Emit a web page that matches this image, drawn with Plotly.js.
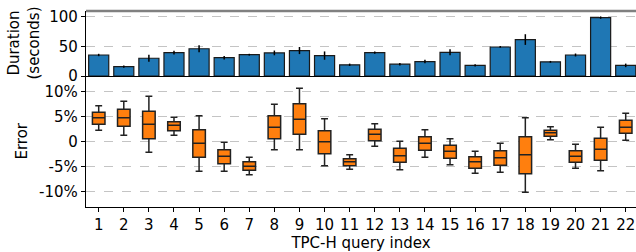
<!DOCTYPE html>
<html><head><meta charset="utf-8">
<script src="https://cdn.plot.ly/plotly-3.0.1.min.js"></script>
<style>html,body{margin:0;padding:0;background:#fff}</style>
</head><body><div id="chart" style="width:636px;height:252px"></div>
<script>
const queries = [1,2,3,4,5,6,7,8,9,10,11,12,13,14,15,16,17,18,19,20,21,22];
const duration = [35.5,16,30,39.5,46,31,36,39,43,34.5,19,39.5,20,24.5,40,18,49,61.5,24,35.5,98.5,18];
const durationErr = [2,2,6,3,6,3,1.5,4,6,7,2,2,2,3,5,2,1.5,9,1.5,2.5,2,3];
const errLow = [2.3,1.3,-2.1,1.3,-5.9,-5.9,-6.6,-1.6,-1.6,-4.8,-5.5,-0.9,-5.6,-3.1,-4.6,-6.3,-6.1,-10.1,0.4,-5.3,-5.8,0.3];
const errQ1 = [3.5,3.1,0.6,2.2,-3.1,-4.4,-5.7,0.6,1.5,-2.4,-4.8,0.2,-4.1,-1.7,-3.3,-5.3,-4.7,-6.4,1.1,-4.1,-3.7,1.7];
const errMed = [4.8,4.8,3.5,3.3,-0.3,-2.9,-4.9,2.9,4.5,0,-4.0,1.5,-2.8,-0.3,-1.9,-4.0,-3.2,-2.6,1.8,-2.9,-1.5,2.9];
const errQ3 = [5.9,6.5,6.1,4.0,2.4,-1.6,-4.0,5.2,7.6,2.2,-3.4,2.5,-1.3,1.0,-0.7,-3.0,-1.8,1.0,2.3,-1.8,0.7,4.3];
const errHigh = [7.2,8.1,9.1,4.9,5.2,-0.1,-3.1,7.5,10.7,4.6,-2.6,3.6,0.1,2.4,0.6,-1.9,-0.3,4.8,3.0,-0.5,2.9,5.7];
const errTickVals = [-10,-5,0,5,10];
const errTickText = ['-10%','-5%','0','5%','10%'];
const durTickVals = [0,50,100];

const font = {family: 'DejaVu Sans', size: 15, color: '#000'};

const traces = [
  {
    type: 'bar', x: queries, y: duration, xaxis: 'x', yaxis: 'y',
    width: 0.8,
    marker: {color: '#1f77b4', line: {color: '#1a1a1a', width: 1.2}},
    error_y: {type: 'data', array: durationErr, visible: true, color: '#000', thickness: 1.5, width: 0},
    hoverinfo: 'skip', showlegend: false
  },
  {
    type: 'box', x: queries, xaxis: 'x2', yaxis: 'y2',
    q1: errQ1, median: errMed, q3: errQ3, lowerfence: errLow, upperfence: errHigh,
    width: 0.5, whiskerwidth: 0.55, boxpoints: false,
    fillcolor: '#ff7f0e', line: {color: '#222', width: 1.5},
    hoverinfo: 'skip', showlegend: false
  }
];

const xr = [0.494, 22.41];
const layout = {
  width: 636, height: 252,
  margin: {l: 86, r: 0, t: 11, b: 45, pad: 0},
  paper_bgcolor: '#fff', plot_bgcolor: '#fff',
  font: font,
  showlegend: false,
  xaxis: {domain: [0,1], anchor: 'y', range: xr, showticklabels: false, ticks: '', showgrid: false,
          zeroline: false, showline: true, linecolor: '#000', linewidth: 1.2},
  yaxis: {domain: [0.668, 1], anchor: 'x', range: [0, 109.6], tickvals: durTickVals, ticks: 'outside', ticklen: 4,
          tickcolor: '#000', tickfont: font, showgrid: true, gridcolor: '#c4c4c4', griddash: 'dash', gridwidth: 1,
          zeroline: false, showline: true, linecolor: '#000', linewidth: 1.2},
  xaxis2: {domain: [0,1], anchor: 'y2', range: xr, tickvals: queries, ticks: 'outside', ticklen: 4, tickcolor: '#000',
           tickfont: font, showgrid: false, zeroline: false, showline: true, linecolor: '#000', linewidth: 1.2,
           title: {text: 'TPC-H query index', font: font, standoff: 4}},
  yaxis2: {domain: [0, 0.668], anchor: 'x2', range: [-13.06, 13.14], tickvals: errTickVals, ticktext: errTickText,
           ticks: 'outside', ticklen: 4, tickcolor: '#000', tickfont: font, showgrid: true, gridcolor: '#c4c4c4',
           griddash: 'dash', gridwidth: 1, zeroline: false, showline: true, linecolor: '#000', linewidth: 1.2},
  shapes: [
    {type: 'line', xref: 'paper', yref: 'y domain', x0: 0, x1: 1, y0: 1, y1: 1, line: {color: '#808080', width: 2.5}}
  ],
  annotations: [
    {text: 'Duration<br>(seconds)', xref: 'paper', yref: 'y domain', x: (24-86)/550, y: 0.5, xanchor: 'center', yanchor: 'middle',
     textangle: -90, showarrow: false, font: font},
    {text: 'Error', xref: 'paper', yref: 'y2 domain', x: (22-86)/550, y: 0.5, xanchor: 'center', yanchor: 'middle',
     textangle: -90, showarrow: false, font: font}
  ]
};
Plotly.newPlot('chart', traces, layout, {displayModeBar: false, staticPlot: true});
</script></body></html>
